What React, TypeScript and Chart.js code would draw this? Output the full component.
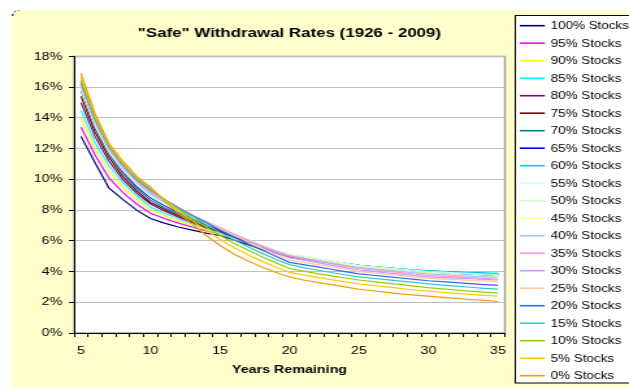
import React, { useEffect, useRef } from 'react';
import { Chart, registerables } from 'chart.js';

Chart.register(...registerables);

// ---------- data ----------
const years = [5, 6, 7, 8, 9, 10, 11, 12, 13, 14, 15, 16, 17, 18, 19, 20, 21, 22, 23, 24, 25, 26, 27, 28, 29, 30, 31, 32, 33, 34, 35];

const seriesLabels = [
  '100% Stocks', '95% Stocks', '90% Stocks', '85% Stocks', '80% Stocks', '75% Stocks', '70% Stocks',
  '65% Stocks', '60% Stocks', '55% Stocks', '50% Stocks', '45% Stocks', '40% Stocks', '35% Stocks',
  '30% Stocks', '25% Stocks', '20% Stocks', '15% Stocks', '10% Stocks', '5% Stocks', '0% Stocks',
];

const seriesColors = [
  '#000080', '#FF00FF', '#FFFF00', '#00FFFF', '#800080', '#800000', '#008080',
  '#0000FF', '#00CCFF', '#CCFFFF', '#CCFFCC', '#FFFF99', '#99CCFF', '#FF99CC',
  '#CC99FF', '#FFCC99', '#3366FF', '#33CCCC', '#99CC00', '#FFCC00', '#FF9900',
];

const s100 = [12.8, 11.1, 9.45, 8.7, 8.0, 7.45, 7.15, 6.9, 6.7, 6.5, 6.35, 6.05, 5.75, 5.45, 5.2, 4.95, 4.82, 4.69, 4.56, 4.43, 4.3, 4.22, 4.15, 4.08, 4.01, 3.95, 3.9, 3.86, 3.82, 3.78, 3.75];
const s95 = [13.4, 11.6, 10.1, 9.15, 8.4, 7.8, 7.45, 7.15, 6.9, 6.65, 6.5, 6.15, 5.85, 5.52, 5.25, 5.0, 4.86, 4.73, 4.6, 4.47, 4.35, 4.27, 4.2, 4.13, 4.06, 4.0, 3.96, 3.93, 3.9, 3.87, 3.85];
const s90 = [14.0, 12.0, 10.55, 9.5, 8.7, 8.0, 7.65, 7.3, 7.0, 6.7, 6.5, 6.15, 5.85, 5.52, 5.25, 5.0, 4.86, 4.73, 4.6, 4.47, 4.35, 4.27, 4.2, 4.13, 4.06, 4.0, 3.95, 3.9, 3.86, 3.83, 3.8];
const s85 = [14.5, 12.4, 10.9, 9.8, 8.95, 8.2, 7.8, 7.45, 7.1, 6.8, 6.55, 6.2, 5.9, 5.57, 5.3, 5.05, 4.91, 4.78, 4.65, 4.52, 4.4, 4.32, 4.24, 4.17, 4.1, 4.05, 4.01, 3.97, 3.94, 3.92, 3.9];
const s80 = [15.0, 12.8, 11.2, 10.0, 9.1, 8.4, 7.95, 7.55, 7.2, 6.85, 6.6, 6.25, 5.95, 5.62, 5.3, 5.05, 4.91, 4.78, 4.65, 4.52, 4.4, 4.31, 4.22, 4.14, 4.07, 4.0, 3.95, 3.9, 3.86, 3.83, 3.8];
const s75 = [15.4, 13.1, 11.45, 10.2, 9.25, 8.5, 8.05, 7.65, 7.25, 6.9, 6.65, 6.3, 6.0, 5.67, 5.35, 5.1, 4.95, 4.8, 4.66, 4.53, 4.4, 4.31, 4.22, 4.14, 4.07, 4.0, 3.95, 3.91, 3.87, 3.83, 3.8];
const s70 = [15.8, 13.35, 11.65, 10.4, 9.4, 8.65, 8.15, 7.75, 7.35, 7.0, 6.7, 6.35, 6.0, 5.67, 5.35, 5.1, 4.95, 4.8, 4.66, 4.53, 4.4, 4.32, 4.24, 4.17, 4.1, 4.05, 4.0, 3.96, 3.92, 3.88, 3.85];
const s65 = [16.1, 13.6, 11.85, 10.55, 9.55, 8.8, 8.3, 7.85, 7.45, 7.05, 6.7, 6.35, 6.0, 5.62, 5.3, 5.0, 4.86, 4.72, 4.58, 4.44, 4.3, 4.22, 4.15, 4.08, 4.01, 3.95, 3.9, 3.86, 3.82, 3.78, 3.75];
const s60 = [16.3, 13.7, 11.95, 10.7, 9.7, 8.85, 8.35, 7.9, 7.5, 7.1, 6.75, 6.4, 6.05, 5.67, 5.35, 5.1, 4.95, 4.8, 4.66, 4.53, 4.4, 4.32, 4.24, 4.16, 4.1, 4.05, 4.0, 3.96, 3.92, 3.88, 3.85];
const s55 = [15.9, 13.5, 11.8, 10.6, 9.65, 8.9, 8.4, 7.95, 7.55, 7.15, 6.8, 6.45, 6.1, 5.72, 5.4, 5.15, 5.0, 4.85, 4.7, 4.55, 4.4, 4.32, 4.24, 4.16, 4.08, 4.0, 3.96, 3.92, 3.88, 3.84, 3.8];
const s50 = [16.0, 13.6, 11.85, 10.65, 9.7, 8.95, 8.45, 8.0, 7.55, 7.15, 6.8, 6.4, 6.05, 5.67, 5.35, 5.1, 4.95, 4.8, 4.65, 4.5, 4.35, 4.27, 4.19, 4.1, 4.02, 3.95, 3.91, 3.87, 3.83, 3.79, 3.75];
const s45 = [16.0, 13.65, 11.9, 10.7, 9.75, 9.0, 8.45, 8.0, 7.55, 7.15, 6.75, 6.35, 6.0, 5.67, 5.35, 5.1, 4.93, 4.77, 4.61, 4.45, 4.3, 4.22, 4.14, 4.05, 3.97, 3.9, 3.85, 3.8, 3.75, 3.7, 3.65];
const s40 = [16.1, 13.7, 11.95, 10.75, 9.8, 9.05, 8.5, 8.05, 7.6, 7.2, 6.8, 6.4, 6.05, 5.67, 5.35, 5.05, 4.88, 4.72, 4.56, 4.4, 4.25, 4.17, 4.09, 4.0, 3.92, 3.85, 3.8, 3.75, 3.7, 3.65, 3.6];
const s35 = [16.1, 13.75, 12.0, 10.8, 9.85, 9.15, 8.6, 8.1, 7.65, 7.25, 6.85, 6.45, 6.05, 5.67, 5.3, 5.0, 4.83, 4.67, 4.51, 4.35, 4.2, 4.11, 4.02, 3.93, 3.84, 3.75, 3.7, 3.65, 3.6, 3.55, 3.5];
const s30 = [16.2, 13.8, 12.05, 10.85, 9.9, 9.2, 8.65, 8.15, 7.7, 7.25, 6.85, 6.4, 6.0, 5.57, 5.2, 4.9, 4.74, 4.58, 4.42, 4.26, 4.1, 4.01, 3.92, 3.83, 3.74, 3.65, 3.61, 3.57, 3.53, 3.49, 3.45];
const s25 = [16.2, 13.85, 12.1, 10.9, 9.95, 9.25, 8.7, 8.2, 7.7, 7.25, 6.8, 6.35, 5.95, 5.52, 5.1, 4.75, 4.6, 4.45, 4.3, 4.15, 4.0, 3.91, 3.82, 3.73, 3.64, 3.55, 3.51, 3.47, 3.43, 3.39, 3.35];
const s20 = [16.3, 13.95, 12.15, 10.95, 10.0, 9.3, 8.7, 8.15, 7.65, 7.2, 6.7, 6.25, 5.8, 5.4, 5.0, 4.6, 4.45, 4.3, 4.15, 4.0, 3.85, 3.76, 3.67, 3.58, 3.49, 3.4, 3.34, 3.28, 3.21, 3.15, 3.1];
const s15 = [16.4, 14.0, 12.2, 11.0, 10.05, 9.35, 8.7, 8.1, 7.6, 7.05, 6.55, 6.05, 5.62, 5.2, 4.8, 4.45, 4.26, 4.1, 3.94, 3.79, 3.65, 3.56, 3.47, 3.38, 3.29, 3.2, 3.12, 3.05, 2.98, 2.91, 2.85];
const s10 = [16.5, 14.1, 12.25, 11.05, 10.1, 9.4, 8.7, 8.05, 7.45, 6.9, 6.35, 5.85, 5.4, 4.97, 4.58, 4.2, 4.03, 3.87, 3.72, 3.58, 3.45, 3.35, 3.25, 3.15, 3.05, 2.95, 2.87, 2.8, 2.73, 2.66, 2.6];
const s5 = [16.7, 14.2, 12.3, 11.1, 10.15, 9.45, 8.65, 7.95, 7.3, 6.7, 6.1, 5.57, 5.1, 4.68, 4.3, 3.95, 3.78, 3.62, 3.47, 3.33, 3.2, 3.1, 3.0, 2.9, 2.8, 2.72, 2.65, 2.58, 2.51, 2.45, 2.4];
const s0 = [16.9, 14.3, 12.35, 11.2, 10.2, 9.5, 8.6, 7.8, 7.1, 6.35, 5.7, 5.15, 4.7, 4.3, 3.95, 3.65, 3.45, 3.3, 3.15, 3.0, 2.85, 2.75, 2.65, 2.55, 2.47, 2.4, 2.32, 2.25, 2.18, 2.12, 2.05];

const seriesValues = [s100, s95, s90, s85, s80, s75, s70, s65, s60, s55, s50, s45, s40, s35, s30, s25, s20, s15, s10, s5, s0];

const yMin = 0;
const yMax = 18;
const yStep = 2;

const chartTitle = '"Safe" Withdrawal Rates (1926 - 2009)';
const xAxisTitle = 'Years Remaining';

// ---------- layout ----------
const W = 484;
const H = 387;
const SX = 629 / 484;
const FONT = "'Liberation Sans', Arial, sans-serif";

export default function App() {
  const ref = useRef<HTMLCanvasElement>(null);

  useEffect(() => {
    const canvas = ref.current;
    if (!canvas) return;

    const decor = {
      id: 'decor',
      beforeDraw(chart: any) {
        const ctx = chart.ctx as CanvasRenderingContext2D;
        const a = chart.chartArea;
        ctx.save();
        ctx.fillStyle = '#FFFFFF';
        ctx.fillRect(0, 0, W, H);
        // chart area (yellow)
        ctx.fillStyle = '#FFFFCC';
        ctx.beginPath();
        ctx.moveTo(15, 10);
        ctx.lineTo(W + 5, 10);
        ctx.lineTo(W + 5, H + 5);
        ctx.lineTo(9.2, H + 5);
        ctx.lineTo(9.2, 16);
        ctx.quadraticCurveTo(9.2, 10, 15, 10);
        ctx.fill();
        ctx.strokeStyle = '#000';
        ctx.lineWidth = 1;
        ctx.setLineDash([2, 2]);
        ctx.beginPath();
        ctx.moveTo(9.7, 16);
        ctx.quadraticCurveTo(9.7, 10.5, 15, 10.5);
        ctx.stroke();
        ctx.setLineDash([]);
        // plot area
        ctx.fillStyle = '#FFFFFF';
        ctx.fillRect(a.left, a.top, a.right - a.left, a.bottom - a.top);
        ctx.strokeStyle = '#A0A0A0';
        ctx.lineWidth = 1.5;
        ctx.strokeRect(a.left, a.top, a.right - a.left, a.bottom - a.top);
        // legend box
        ctx.fillStyle = '#FFFFFF';
        ctx.fillRect(396.5, 15.5, 100, 367.5);
        ctx.strokeStyle = '#000';
        ctx.lineWidth = 1;
        ctx.strokeRect(396.5, 15.5, 100, 367.5);
        ctx.restore();
      },
      afterDraw(chart: any) {
        const ctx = chart.ctx as CanvasRenderingContext2D;
        const a = chart.chartArea;
        ctx.save();
        ctx.fillStyle = '#000';
        ctx.textAlign = 'center';
        ctx.textBaseline = 'middle';
        ctx.font = `bold 13px ${FONT}`;
        ctx.fillText(chartTitle, (a.left + a.right) / 2, 33);
        ctx.font = `bold 11px ${FONT}`;
        ctx.fillText(xAxisTitle, (a.left + a.right) / 2, 370);
        // legend
        ctx.textAlign = 'left';
        ctx.font = `10.3px ${FONT}`;
        for (let i = 0; i < seriesLabels.length; i++) {
          const y = 25.7 + i * 17.5;
          ctx.strokeStyle = seriesColors[i];
          ctx.lineWidth = 1.6;
          ctx.beginPath();
          ctx.moveTo(400, y);
          ctx.lineTo(419.2, y);
          ctx.stroke();
          ctx.fillStyle = '#000';
          ctx.fillText(seriesLabels[i], 423.8, y + 0.5);
        }
        ctx.restore();
      },
    };

    const chart = new Chart(canvas, {
      type: 'line',
      data: {
        labels: years.map(String),
        datasets: seriesValues.map((d, i) => ({
          label: seriesLabels[i],
          data: d,
          borderColor: seriesColors[i],
          backgroundColor: seriesColors[i],
          borderWidth: 1.2,
          pointRadius: 0,
          tension: 0,
          fill: false,
          order: seriesValues.length - 1 - i,
        })),
      },
      options: {
        responsive: false,
        animation: false,
        devicePixelRatio: 1,
        events: [],
        layout: { padding: { left: 0, right: 95.5, top: 56.5, bottom: 0 } },
        plugins: {
          legend: { display: false },
          title: { display: false },
          tooltip: { enabled: false },
        },
        scales: {
          x: {
            type: 'category',
            offset: true,
            grid: { drawOnChartArea: false, offset: true, tickLength: 4, tickColor: '#000', tickWidth: 1 },
            border: { color: '#000', width: 1 },
            ticks: {
              autoSkip: false,
              maxRotation: 0,
              minRotation: 0,
              padding: 7,
              color: '#000',
              font: { size: 11, family: FONT },
              callback: (_v: any, i: number) => (years[i] % 5 === 0 ? String(years[i]) : ''),
            },
            afterFit: (s: any) => {
              s.height = 54;
            },
          },
          y: {
            min: yMin,
            max: yMax,
            ticks: {
              stepSize: yStep,
              padding: 5,
              color: '#000',
              font: { size: 11, family: FONT },
              callback: (v: any) => `${v}%`,
            },
            grid: { color: '#C0C0C0', tickColor: '#000', tickLength: 4, lineWidth: 1 },
            border: { color: '#000', width: 1 },
            afterFit: (s: any) => {
              s.width = 57;
            },
          },
        },
      } as any,
      plugins: [decor],
    });

    return () => chart.destroy();
  }, []);

  return (
    <div
      style={{
        position: 'fixed',
        left: 0,
        top: 0,
        width: W,
        height: H,
        transform: `scaleX(${SX})`,
        transformOrigin: '0 0',
      }}
    >
      <canvas ref={ref} width={W} height={H} style={{ display: 'block' }} />
    </div>
  );
}
